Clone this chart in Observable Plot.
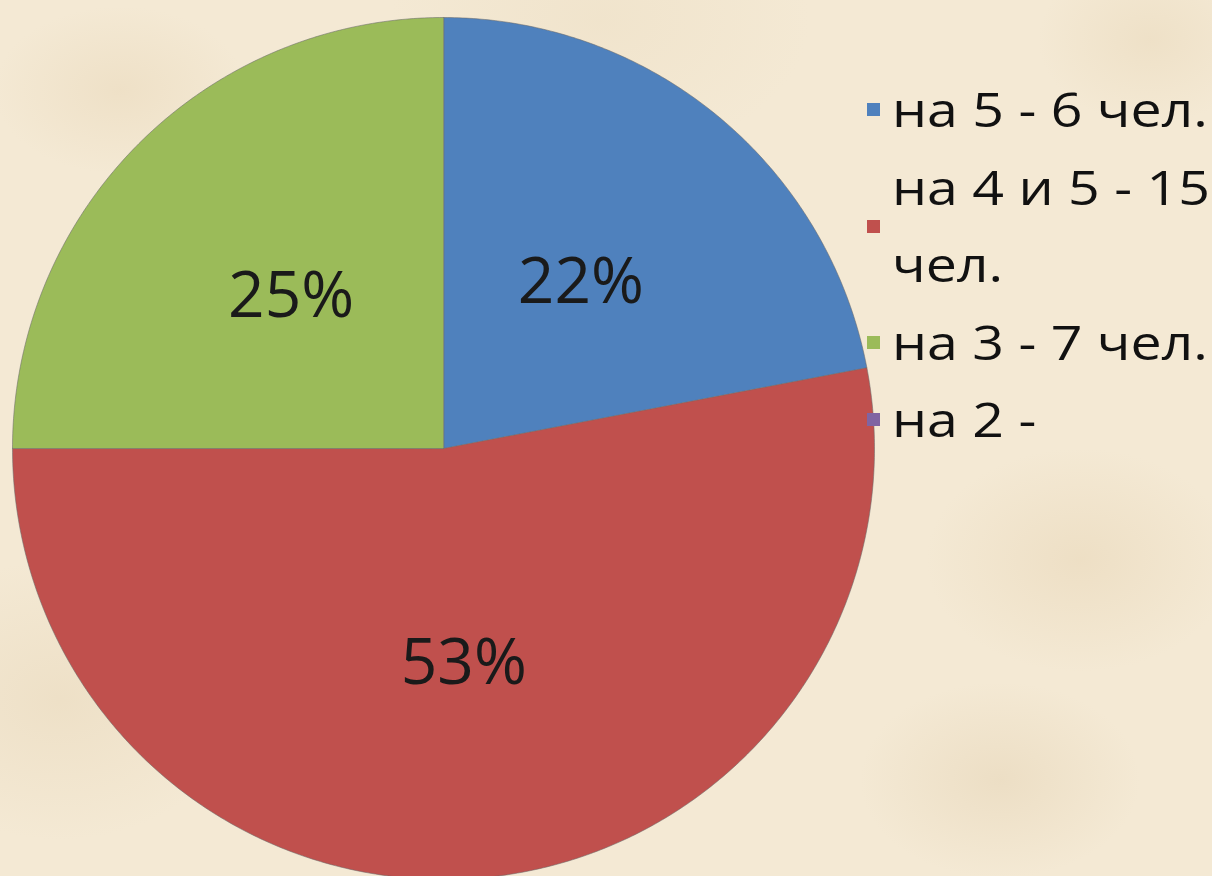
<!DOCTYPE html>
<html>
<head>
<meta charset="utf-8">
<script src="https://cdn.jsdelivr.net/npm/d3@7"></script>
<script src="https://cdn.jsdelivr.net/npm/@observablehq/plot@0.6"></script>
<style>
html, body { margin: 0; padding: 0; width: 1212px; height: 876px; overflow: hidden; }
body {
  background-color: #f4e9d4;
  background-image:
    radial-gradient(ellipse 180px 120px at 120px 90px, rgba(228,208,174,0.35), rgba(228,208,174,0) 70%),
    radial-gradient(ellipse 220px 160px at 1080px 560px, rgba(228,208,174,0.4), rgba(228,208,174,0) 70%),
    radial-gradient(ellipse 200px 140px at 1000px 780px, rgba(222,202,168,0.35), rgba(222,202,168,0) 70%),
    radial-gradient(ellipse 160px 120px at 1150px 40px, rgba(230,212,180,0.4), rgba(230,212,180,0) 70%),
    radial-gradient(ellipse 260px 200px at 60px 700px, rgba(226,207,174,0.35), rgba(226,207,174,0) 70%),
    radial-gradient(ellipse 300px 200px at 600px 20px, rgba(232,216,186,0.3), rgba(232,216,186,0) 70%);
  font-family: "Open Sans", sans-serif;
}
#wrap { position: relative; width: 1212px; height: 876px; }
#chart { position: absolute; left: 0; top: 0; }
#legend {
  position: absolute; left: 867px; top: 71px; width: 360px;
  font-family: "Open Sans", sans-serif; font-size: 47px; line-height: 77.5px; color: #111;
}
.item { display: flex; align-items: center; }
.swatch { width: 13px; height: 13px; flex: none; margin-right: 12px; }
.label { width: 285px; flex: none; transform: scaleX(1.18); transform-origin: 0 50%; }
</style>
</head>
<body>
<div id="wrap">
  <div id="chart"></div>
  <div id="legend"></div>
</div>
<script>
// Data
const categories = ["на 5 - 6 чел.", "на 4 и 5 - 15 чел.", "на 3 - 7 чел.", "на 2 -"];
const percents = [22, 53, 25, 0];
const colors = ["#4f81bd", "#c0504d", "#9bbb59", "#8064a2"];

const data = categories.map((name, i) => ({name, value: percents[i]}));
const arcs = d3.pie().sort(null).value(d => d.value)(data);

// polygon points of each slice in unit-circle coordinates (clockwise from 12 o'clock)
const slicePts = arcs.filter(a => a.value > 0).flatMap(a => {
  const n = Math.max(2, Math.ceil((a.endAngle - a.startAngle) / (Math.PI / 360)));
  const pts = [{name: a.data.name, x: 0, y: 0}];
  for (let k = 0; k <= n; k++) {
    const t = a.startAngle + (a.endAngle - a.startAngle) * k / n;
    pts.push({name: a.data.name, x: Math.sin(t), y: Math.cos(t)});
  }
  return pts;
});

const labelPts = arcs.filter(a => a.value > 0).map(a => {
  const m = (a.startAngle + a.endAngle) / 2;
  return {x: 0.5 * Math.sin(m), y: 0.5 * Math.cos(m), text: a.data.value + "%"};
});

const chart = Plot.plot({
  width: 1212,
  height: 876,
  style: {background: "transparent", overflow: "hidden"},
  x: {domain: [-1, 1], range: [12, 874], axis: null},
  y: {domain: [-1, 1], range: [879, 17], axis: null},
  color: {domain: categories, range: colors},
  marks: [
    Plot.line(slicePts, {x: "x", y: "y", z: "name", fill: "name", stroke: "#6a6a6a",
      strokeWidth: 1, strokeOpacity: 0.55, curve: "linear-closed"}),
    Plot.text(labelPts, {x: "x", y: "y", text: "text", fontSize: 64,
      fontFamily: "Open Sans", fill: "#1a1a1a", textAnchor: "middle", lineAnchor: "middle"})
  ]
});
document.getElementById("chart").appendChild(chart);

const legend = d3.select("#legend");
categories.forEach((c, i) => {
  const it = legend.append("div").attr("class", "item");
  it.append("div").attr("class", "swatch").style("background", colors[i]);
  it.append("div").attr("class", "label").text(c);
});
</script>
</body>
</html>
